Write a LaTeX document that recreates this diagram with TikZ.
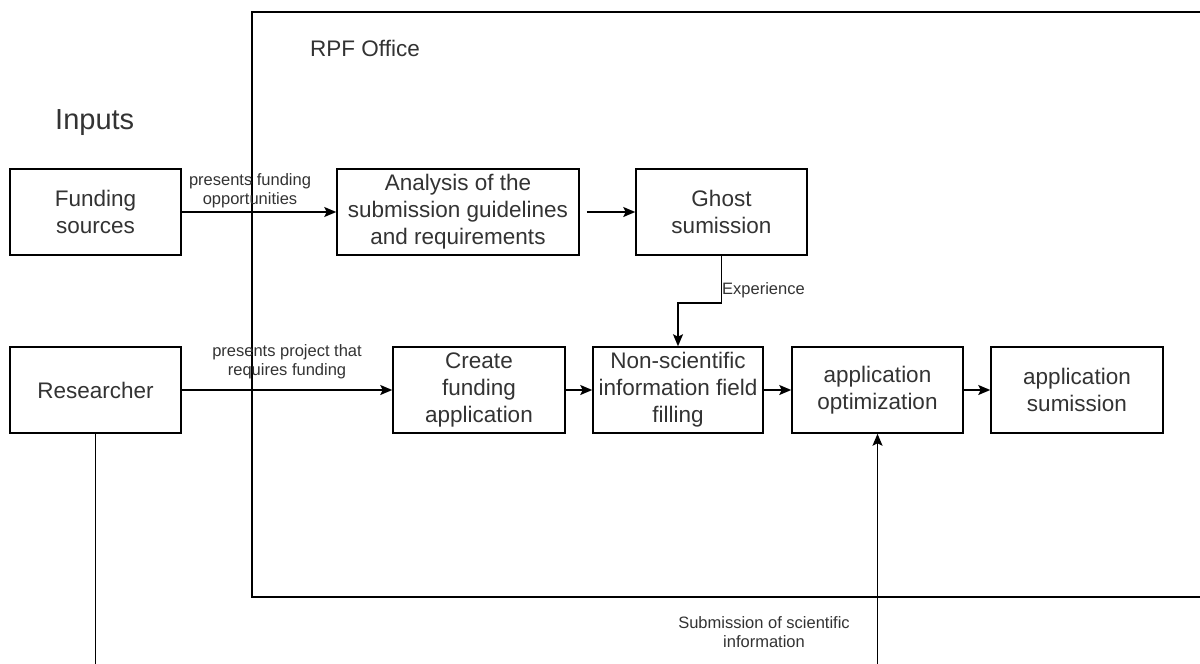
\documentclass[tikz,border=0pt]{standalone}
\usepackage{fontspec}
\setmainfont{Liberation Sans}
\usetikzlibrary{arrows.meta}
\begin{document}
\begin{tikzpicture}[x=1pt,y=-1pt,
  box/.style={draw, line width=1.5pt, minimum width=171pt, minimum height=86pt,
    inner sep=0pt, align=center, text=black!80,
    font=\fontsize{22.5}{27}\selectfont},
  flow/.style={line width=1.5pt, -{Stealth[length=12pt,width=10pt,inset=2.5pt]}},
  lbl/.style={inner sep=0pt, align=center, text=black!80,
    font=\fontsize{16.5}{19.5}\selectfont}]
\path[use as bounding box] (0,0) rectangle (1200,664);
\clip (0,0) rectangle (1200,664);
\fill[white] (0,0) rectangle (1200,664);

% RPF office frame, running past the right edge
\draw[line width=1.5pt] (252,12) rectangle (1240,597);
\node[anchor=west, inner sep=0pt, text=black!80, font=\fontsize{22.5}{27}\selectfont] (office) at (310,48) {RPF Office};
\node[anchor=west, inner sep=0pt, text=black!80, font=\fontsize{29}{34}\selectfont] (inputs) at (55,123) {Inputs};

% top row
\node[box] (fund) at (95.5,212) {Funding\\sources};
\node[box, minimum width=242pt] (anal) at (458,212) {Analysis of the\\submission guidelines\\and requirements};
\node[box] (ghost) at (721.5,212) {Ghost\\sumission};

% bottom row
\node[box] (res) at (95.5,390) {Researcher};
\node[box, minimum width=172pt] (create) at (479,390) {Create\\funding\\application};
\node[box, minimum width=170pt] (nonsci) at (678,390) {Non-scientific\\information field\\filling};
\node[box] (opt) at (877.5,390) {application\\optimization};
\node[box, minimum width=172pt] (sub) at (1077,390) {application\\sumission};

% connectors
\draw[flow] (fund) -- (anal);
\node[lbl] (lfund) at (250,190.5) {presents funding\\opportunities};
\draw[flow, shorten <=7pt] (anal) -- (ghost);
\draw[flow] (ghost.south) -- ++(0,47) -| (nonsci.north);
\node[lbl, anchor=west] (lexp) at (722,290) {Experience};
\draw[flow] (res) -- (create);
\node[lbl] (lres) at (287,361.5) {presents project that\\requires funding};
\draw[flow] (create) -- (nonsci);
\draw[flow] (nonsci) -- (opt);
\draw[flow] (opt) -- (sub);
\draw[flow] (res.south) -- ++(0,260) -| (opt.south);
\node[lbl] (lsci) at (764,632) {Submission of scientific\\information};
\end{tikzpicture}
\end{document}
